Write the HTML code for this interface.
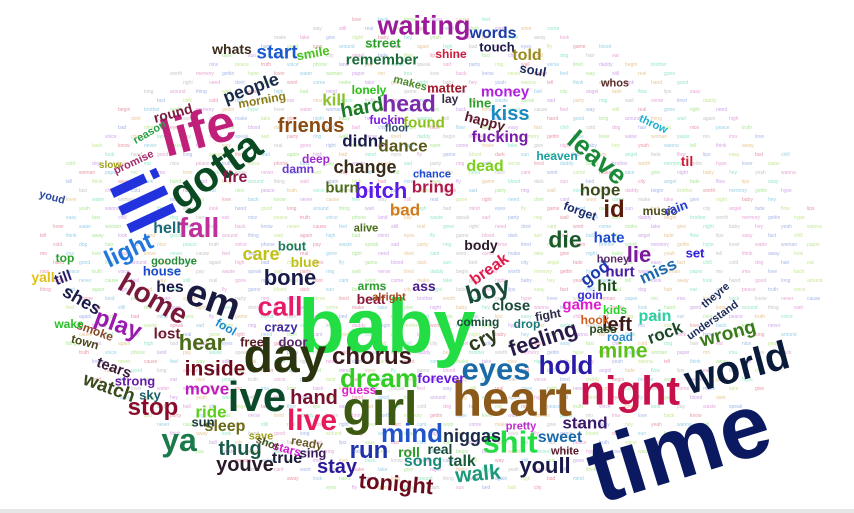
<!DOCTYPE html>
<html><head><meta charset="utf-8">
<style>
html,body{margin:0;padding:0;background:#fff;}
#cloud{position:relative;width:854px;height:513px;overflow:hidden;background:#fff;}
.w{position:absolute;left:0;top:0;white-space:nowrap;font-family:"Liberation Sans",sans-serif;font-weight:bold;line-height:1;}
#base{position:absolute;left:0;top:509px;width:854px;height:4px;background:#e6e6e6;}
</style></head>
<body>
<div id="cloud">
<div id="base"></div>
</div>
<script>
// word cloud: [text, centerX, centerY, fontSize, color, rotationDeg]
const words = [
["time",679,448,90,"#0b1a60",-17],
["baby",387,327,76,"#22dd44",0],
["heart",512,400,49,"#8b5a1a",0],
["night",630,391,41,"#c8104a",0],
["world",737,368,40,"#0a1a3a",-15],
["girl",380,410,48,"#3d5a12",0],
["day",285,357,48,"#2a3510",0],
["ive",257,397,42,"#0a4a2a",0],
["life",198,131,52,"#c0207a",-15],
["ill",142,201,70,"#2233dd",65],
["gotta",215,170,42,"#0a4a22",-35],
["em",213,300,38,"#1a1a40",20],
["home",153,299,28,"#7a1a3a",30],
["fall",199,228,28,"#c0309a",0],
["light",129,251,24,"#2277dd",-25],
["play",118,325,24,"#9a1ab0",20],
["shes",82,300,18,"#1a1a4a",30],
["call",280,307,27,"#e81a6a",0],
["chorus",372,357,24,"#3a1a1a",0],
["dream",379,378,26,"#33cc22",0],
["live",312,421,30,"#e81a5a",0],
["hand",314,398,20,"#7a1030",0],
["eyes",496,369,31,"#1a6aa8",0],
["hold",566,365,26,"#2a1aa8",0],
["mind",412,433,26,"#2255cc",0],
["shit",510,442,31,"#22dd44",0],
["run",369,451,24,"#2233aa",0],
["niggas",472,436,18,"#1a2a4a",0],
["stay",337,467,20,"#2a1a9a",0],
["tonight",396,484,22,"#6a0a1a",5],
["walk",478,474,21,"#1a9a7a",-5],
["youll",545,466,22,"#1a1a4a",0],
["song",423,462,16,"#1a8a7a",0],
["talk",462,462,16,"#1a5a3a",0],
["real",440,449,14,"#1a4a3a",0],
["roll",409,452,14,"#2a9a2a",0],
["true",287,459,16,"#1a1a3a",0],
["sing",313,453,13,"#3a1a5a",0],
["close",511,306,15,"#1a4a3a",0],
["boy",488,291,25,"#1a4a3a",-15],
["feeling",543,339,22,"#2a1a4a",-18],
["cry",483,340,20,"#2a3a1a",-25],
["beat",371,299,14,"#8a1a3a",0],
["ass",424,286,14,"#4a1a8a",0],
["arms",372,286,12,"#2aa02a",0],
["coming",478,322,12,"#1a4a3a",0],
["drop",527,324,12,"#1a7a7a",0],
["fight",548,315,12,"#2a2a4a",-10],
["forever",441,378,14,"#6a1ae0",0],
["guess",359,390,12,"#e01ad0",0],
["crazy",281,327,13,"#3a2aa8",0],
["door",293,342,13,"#5a2a6a",0],
["free",252,342,13,"#5a1a2a",0],
["waiting",424,26,27,"#9a1a9a",0],
["words",493,34,16,"#1a3aa8",0],
["start",277,53,19,"#1a5ad0",0],
["whats",232,49,14,"#3a2a1a",0],
["smile",313,53,13,"#4ac01a",-10],
["street",383,43,13,"#2a9a2a",0],
["remember",382,60,15,"#1a6a3a",0],
["touch",497,47,13,"#1a1a4a",0],
["shine",451,54,12,"#d01a3a",0],
["told",527,56,16,"#9a8a1a",0],
["soul",533,70,13,"#1a2a5a",10],
["people",251,88,18,"#1a2a4a",-20],
["kill",334,100,17,"#8ac02a",0],
["hard",362,108,20,"#1a7a2a",-10],
["head",409,104,23,"#7a2aaa",0],
["lonely",369,90,12,"#2ac01a",0],
["matter",447,88,13,"#a01a2a",0],
["makes",410,84,11,"#4a8a2a",15],
["money",505,92,15,"#b020e0",0],
["line",480,103,13,"#2aa02a",0],
["lay",450,99,12,"#3a2a4a",0],
["kiss",510,114,20,"#1a8ac0",0],
["friends",311,126,20,"#8a4a10",0],
["found",424,123,15,"#8ac01a",0],
["fuckin",387,120,12,"#7a1ae0",0],
["happy",485,121,14,"#5a1a2a",15],
["fucking",500,138,16,"#7a1aaa",0],
["didnt",363,141,17,"#1a1a4a",0],
["dance",403,146,17,"#5a5a1a",0],
["floor",397,129,11,"#2a4a6a",0],
["change",365,167,18,"#3a2a1a",0],
["bitch",381,191,22,"#5a1ae8",0],
["bring",433,187,17,"#b01a4a",0],
["bad",405,210,17,"#d07a1a",0],
["dead",485,167,16,"#7ad01a",0],
["chance",432,175,11,"#1a4ad0",0],
["heaven",557,156,12,"#1aa0a0",0],
["leave",597,158,27,"#1a8a3a",40],
["hope",600,190,17,"#3a4a1a",0],
["id",614,210,24,"#5a1a0a",0],
["forget",580,211,12,"#1a2a6a",20],
["die",565,240,23,"#1a5a2a",0],
["hate",609,238,15,"#1a4ad0",0],
["lie",639,255,22,"#7a1a9a",0],
["body",481,245,14,"#2a1a2a",0],
["break",490,270,16,"#e01a4a",-35],
["god",595,273,17,"#1a3ab0",-35],
["hurt",620,272,15,"#4a1aa8",0],
["hit",607,287,16,"#1a4a1a",0],
["game",582,305,15,"#e01ad0",0],
["goin",590,295,12,"#3a2ae0",0],
["left",617,325,20,"#3a1a1a",0],
["pain",655,317,16,"#2ad0a0",0],
["mine",623,351,21,"#5ac01a",0],
["rock",665,333,17,"#1a4a2a",-20],
["wrong",728,334,19,"#3a7a1a",-15],
["understand",713,321,11,"#1a2a5a",-35],
["theyre",716,296,11,"#1a2a5a",-40],
["stand",585,423,17,"#3a1a6a",0],
["sweet",560,438,16,"#1a6aa8",0],
["white",565,452,11,"#5a1a2a",0],
["miss",658,271,17,"#1a6ab0",-25],
["set",695,253,13,"#3a1ae0",0],
["music",660,211,12,"#4a4a1a",0],
["rain",676,208,13,"#2a3ad0",-20],
["til",687,161,14,"#d01a3a",0],
["throw",653,125,11,"#1ab0d0",25],
["whos",615,84,11,"#5a2a2a",0],
["honey",613,260,11,"#5a2a6a",0],
["hes",170,288,16,"#1a1a4a",0],
["hear",202,343,22,"#4a6a1a",0],
["lost",167,334,15,"#6a1a2a",0],
["inside",215,369,21,"#6a0a1a",0],
["stop",153,408,24,"#8a0a2a",0],
["move",207,389,17,"#c01ac0",0],
["ride",211,412,17,"#5ad01a",0],
["watch",109,388,19,"#3a4a1a",20],
["tears",114,368,15,"#3a1a3a",20],
["ya",179,440,32,"#1a7a4a",0],
["thug",240,449,20,"#1a5a4a",0],
["youve",245,465,20,"#2a1a2a",0],
["sleep",225,427,16,"#6a6a1a",0],
["sun",203,422,13,"#1a3a3a",0],
["smoke",95,331,12,"#8a4a2a",20],
["town",85,342,12,"#4a4a1a",15],
["strong",135,381,13,"#6a1aa8",0],
["sky",150,395,13,"#1a5a6a",0],
["fire",235,178,16,"#8a1a4a",0],
["round",173,113,14,"#7a1a3a",-15],
["hell",167,229,16,"#1a6a7a",0],
["care",261,254,18,"#c0c01a",0],
["bone",290,278,22,"#1a1a4a",0],
["blue",305,262,14,"#c0c01a",0],
["bout",292,246,13,"#1a7a5a",0],
["house",162,271,13,"#1a4ad0",0],
["goodbye",174,262,11,"#2a8a3a",0],
["burn",342,188,15,"#4a6a1a",0],
["deep",316,159,12,"#a02ad0",0],
["damn",298,169,12,"#6a3ad0",0],
["till",63,278,15,"#2a1a6a",-20],
["yall",43,277,14,"#e0c01a",0],
["top",65,258,12,"#2aa02a",0],
["youd",52,198,11,"#2a4aa0",15],
["morning",262,100,12,"#8a7a1a",-10],
["reason",150,133,11,"#2aa04a",-30],
["promise",134,163,11,"#a02a6a",-25],
["slow",110,166,10,"#a0a01a",0],
["wake",69,324,12,"#2ac02a",0],
["fool",226,327,12,"#1a8ad0",30],
["alright",389,298,11,"#a04a1a",0],
["alive",366,229,11,"#4a6a1a",0],
["pretty",521,427,11,"#c02ad0",0],
["kids",615,310,12,"#2ad02a",0],
["hook",595,320,12,"#d05a1a",0],
["pass",603,329,12,"#2a4a1a",0],
["road",620,337,12,"#2a8ad0",0],
["stars",287,449,12,"#d01ad0",15],
["ready",307,443,12,"#6a5a2a",10],
["save",261,437,11,"#a0a01a",0],
["shot",267,444,11,"#4a4a1a",20]
];
const tiny = ["love","back","know","never","cause","feel","way","still","real","gone","right","need","dont","cant","wont","come","make","take","give","night","baby","hey","yeah","wanna","tell","think","away","look","hand","good","long","around","thing","wait","again","high","bad","mind","eyes","fly","game","blood","dark","sun","bed","ball","city","angel","fade","flow","lips","easy","fast","chill","cold","dog","hair","eat","nice","peace","truth","voice","phone","land","pay","waste","speak","sad","party","ring","wall","verse","tired","daddy","begin","brother","worth","memory","gettin","hype","lover","water","woman","paper","mo","ima"];
const tinyColors = ["#e89aa8","#9ad0e8","#b0e89a","#d0a8e8","#e8c89a","#9ae8c8","#c8c8c8","#e8a8d8","#a8b8e8","#c8e89a"];
const cloud = document.getElementById('cloud');
let k = 0;
for (let y = 18; y < 495; y += 9) {
  for (let x = 40; x < 810; x += 26) {
    const dx = (x - 420) / 385, dy = (y - 256) / 242;
    if (dx*dx + dy*dy > 1) continue;
    const xo = x + ((Math.floor(y/9)) % 2) * 13;
    const t = document.createElement('span');
    
    
    t.className = 'w';
    t.textContent = tiny[k % tiny.length];
    t.style.fontSize = '5px';
    t.style.fontWeight = 'normal';
    t.style.color = tinyColors[k % tinyColors.length];
    t.style.transform = 'translate(' + xo + 'px,' + y + 'px)';
    cloud.appendChild(t);
    k++;
  }
}
words.forEach(function (w) {
  const s = document.createElement('span');
  
  
  s.className = 'w';
  s.textContent = w[0];
  s.style.fontSize = w[3] + 'px';
  s.style.color = w[4];
  s.style.transform = 'translate(' + w[1] + 'px,' + w[2] + 'px) translate(-50%,-50%) rotate(' + w[5] + 'deg)';
  cloud.appendChild(s);
});
</script>
</body></html>
